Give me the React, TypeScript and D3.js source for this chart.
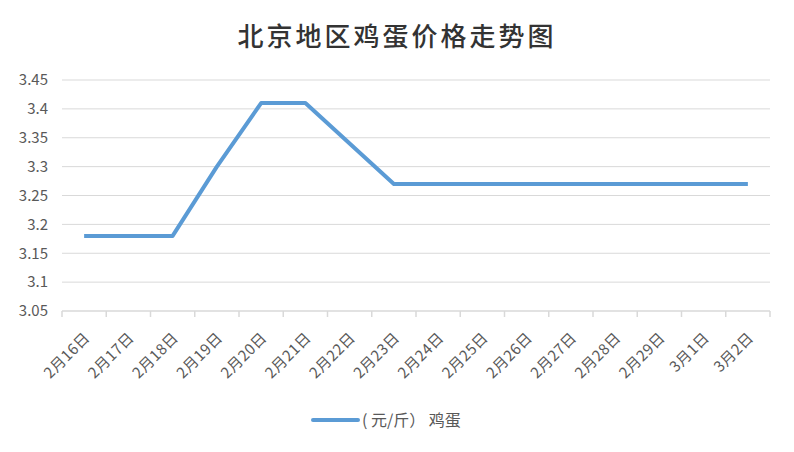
import { useEffect, useRef } from "react";
import * as d3 from "d3";

const dates = [
  "2月16日", "2月17日", "2月18日", "2月19日", "2月20日", "2月21日", "2月22日", "2月23日",
  "2月24日", "2月25日", "2月26日", "2月27日", "2月28日", "2月29日", "3月1日", "3月2日",
];
const prices = [3.18, 3.18, 3.18, 3.3, 3.41, 3.41, 3.34, 3.27, 3.27, 3.27, 3.27, 3.27, 3.27, 3.27, 3.27, 3.27];
const yTicks = [3.05, 3.1, 3.15, 3.2, 3.25, 3.3, 3.35, 3.4, 3.45];
const seriesName = "( 元/斤） 鸡蛋";
const title = "北京地区鸡蛋价格走势图";

const W = 794;
const H = 452;
const FONT = "'Noto Sans CJK SC', 'Noto Sans', sans-serif";
const TEXT = "#595959";
const GRID = "#d9d9d9";
const LINE = "#5b9bd5";

export default function App() {
  const svgRef = useRef<SVGSVGElement>(null);

  useEffect(() => {
    if (!svgRef.current) return;
    const margin = { top: 80, right: 24, bottom: 141, left: 62 };
    const innerW = W - margin.left - margin.right;
    const innerH = H - margin.top - margin.bottom;

    const svg = d3.select(svgRef.current);
    svg.selectAll("*").remove();

    svg.append("rect")
      .attr("x", 0.5).attr("y", 0.5)
      .attr("width", W - 1).attr("height", H - 1)
      .attr("fill", "#fff").attr("stroke", GRID);

    svg.append("text")
      .attr("x", W / 2).attr("y", 46)
      .attr("text-anchor", "middle")
      .attr("font-family", FONT)
      .attr("font-size", 26)
      .attr("font-weight", 500)
      .attr("fill", "#333")
      .attr("letter-spacing", 3)
      .text(title);

    const g = svg.append("g").attr("transform", `translate(${margin.left},${margin.top})`);

    const x = d3.scaleBand().domain(dates).range([0, innerW]);
    const y = d3.scaleLinear().domain([3.05, 3.45]).range([innerH, 0]);

    // Grid
    g.selectAll("line.grid")
      .data(yTicks.slice(1))
      .join("line")
      .attr("x1", 0).attr("x2", innerW)
      .attr("y1", (d) => y(d)).attr("y2", (d) => y(d))
      .attr("stroke", GRID).attr("stroke-width", 1);

    // Y labels
    g.selectAll("text.ylab")
      .data(yTicks)
      .join("text")
      .attr("x", -14)
      .attr("y", (d) => y(d))
      .attr("dy", "0.35em")
      .attr("text-anchor", "end")
      .attr("font-family", FONT)
      .attr("font-size", 15)
      .attr("fill", TEXT)
      .text((d) => String(+d.toFixed(2)));

    // X axis
    g.append("line")
      .attr("x1", 0).attr("x2", innerW)
      .attr("y1", innerH).attr("y2", innerH)
      .attr("stroke", GRID).attr("stroke-width", 1.5);
    const bounds = dates.map((d) => x(d)!).concat([innerW]);
    g.selectAll("line.tick")
      .data(bounds)
      .join("line")
      .attr("x1", (d) => d).attr("x2", (d) => d)
      .attr("y1", innerH).attr("y2", innerH + 6)
      .attr("stroke", GRID).attr("stroke-width", 1.5);

    g.selectAll("text.xlab")
      .data(dates)
      .join("text")
      .attr("transform", (d) => `translate(${x(d)! + x.bandwidth() / 2 + 3},${innerH + 24}) rotate(-45)`)
      .attr("text-anchor", "end")
      .attr("dy", "0.35em")
      .attr("font-family", FONT)
      .attr("font-size", 15)
      .attr("letter-spacing", 0.5)
      .attr("fill", TEXT)
      .text((d) => d);

    // Line
    const line = d3.line<number>()
      .x((_, i) => x(dates[i])! + x.bandwidth() / 2)
      .y((d) => y(d));
    g.append("path")
      .datum(prices)
      .attr("fill", "none")
      .attr("stroke", LINE)
      .attr("stroke-width", 4)
      .attr("stroke-linejoin", "round")
      .attr("d", line);

    // Legend
    const lg = svg.append("g").attr("transform", "translate(313,420)");
    lg.append("line")
      .attr("x1", 0).attr("x2", 45)
      .attr("stroke", LINE).attr("stroke-width", 4).attr("stroke-linecap", "round");
    lg.append("text")
      .attr("x", 49).attr("dy", "0.35em")
      .attr("font-family", FONT)
      .attr("font-size", 16)
      .attr("fill", TEXT)
      .text(seriesName);
  }, []);

  return (
    <div style={{ margin: -8, width: W, height: H }}>
      <svg ref={svgRef} width={W} height={H} style={{ display: "block" }} />
    </div>
  );
}
